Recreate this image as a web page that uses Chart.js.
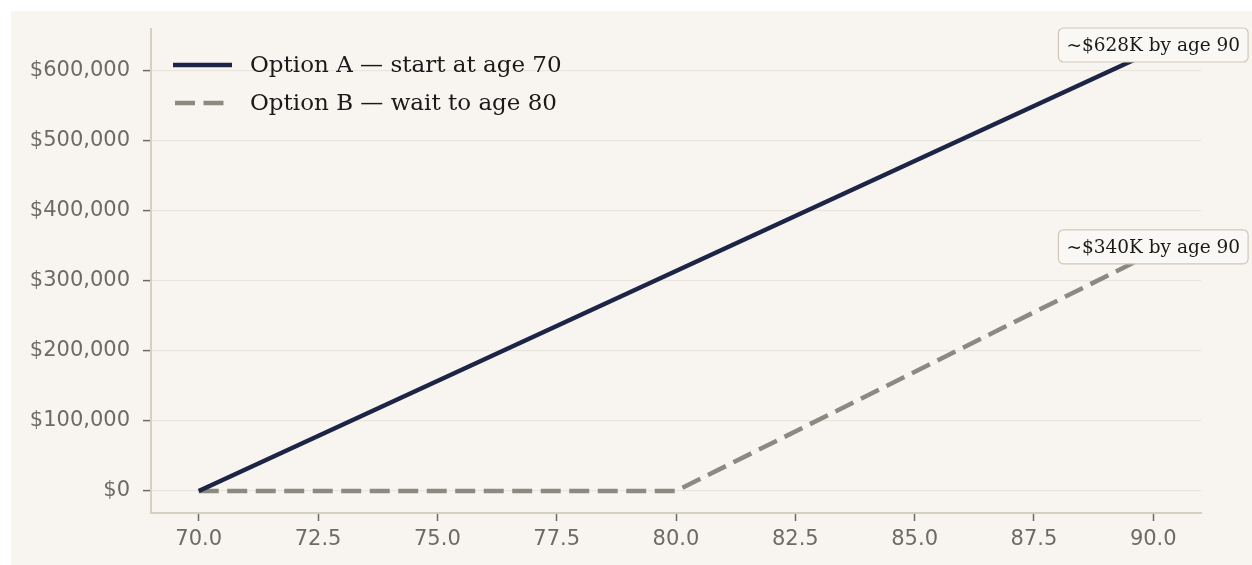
<!DOCTYPE html>
<html>
<head>
<meta charset="utf-8">
<title>Cumulative benefits: start at 70 vs wait to 80</title>
<script src="https://cdn.jsdelivr.net/npm/chart.js@4/dist/chart.umd.min.js"></script>
<style>
  html, body { margin: 0; padding: 0; background: #ffffff; }
  #wrap { position: absolute; left: 11px; top: 11px; width: 1241px; height: 554px; background: #f8f4f0; }
  canvas { display: block; }
</style>
</head>
<body>
<div id="wrap"><canvas id="chart" width="1241" height="554"></canvas></div>
<script>
// Ages and cumulative amounts received
const agesA = [70, 90];
const valuesA = [0, 628000];
const agesB = [70, 80, 90];
const valuesB = [0, 0, 340000];

const seriesLabels = ['Option A \u2014 start at age 70', 'Option B \u2014 wait to age 80'];
const endNotes = ['~$628K by age 90', '~$340K by age 90'];

// Axis ticks
const xTickValues = [70, 72.5, 75, 77.5, 80, 82.5, 85, 87.5, 90];
const yTickValues = [0, 100000, 200000, 300000, 400000, 500000, 600000];

const SERIF = '"DejaVu Serif", "Liberation Serif", serif';
const SANS = '"DejaVu Sans", sans-serif';

function toPoints(xs, ys) { return xs.map((x, i) => ({ x: x, y: ys[i] })); }

// Legend drawn inside the plot, upper left
const insideLegend = {
  id: 'insideLegend',
  afterDatasetsDraw(chart) {
    const ctx = chart.ctx;
    const area = chart.chartArea;
    const x0 = area.left + 22;
    const y0 = area.top + 36;
    const rowGap = 38;
    ctx.save();
    chart.data.datasets.forEach((ds, i) => {
      const y = y0 + i * rowGap;
      const dash = ds.borderDash || [];
      // solid handle spans 59px; dashed handle shows two full dashes
      const hx0 = dash.length ? x0 + 2 : x0;
      const hx1 = dash.length ? hx0 + dash[0] * 2 + dash[1] : x0 + 59;
      ctx.beginPath();
      ctx.lineWidth = ds.borderWidth;
      ctx.strokeStyle = ds.borderColor;
      ctx.setLineDash(dash);
      ctx.lineCap = 'butt';
      ctx.moveTo(hx0, y);
      ctx.lineTo(hx1, y);
      ctx.stroke();
      ctx.setLineDash([]);
      ctx.fillStyle = '#1a1a1a';
      ctx.font = '23px ' + SERIF;
      ctx.textAlign = 'left';
      ctx.textBaseline = 'middle';
      ctx.fillText(ds.label, x0 + 77, y + 1);
    });
    ctx.restore();
  }
};

// Boxed note above the last point of each series
const endNoteBoxes = {
  id: 'endNoteBoxes',
  afterDatasetsDraw(chart) {
    const ctx = chart.ctx;
    const xs = chart.scales.x, ys = chart.scales.y;
    ctx.save();
    ctx.font = '18.5px ' + SERIF;
    chart.data.datasets.forEach((ds, i) => {
      const last = ds.data[ds.data.length - 1];
      const cx = xs.getPixelForValue(last.x);
      const cy = ys.getPixelForValue(last.y) - 6;
      const text = endNotes[i];
      const w = ctx.measureText(text).width + 16;
      const h = 34;
      const bx = cx - w / 2, by = cy - h / 2;
      ctx.beginPath();
      ctx.roundRect(bx, by, w, h, 5);
      ctx.fillStyle = '#faf8f4';
      ctx.fill();
      ctx.lineWidth = 1.2;
      ctx.strokeStyle = '#cfc8b8';
      ctx.stroke();
      ctx.fillStyle = '#1a1a1a';
      ctx.textAlign = 'center';
      ctx.textBaseline = 'middle';
      ctx.fillText(text, cx, cy + 1);
    });
    ctx.restore();
  }
};

new Chart(document.getElementById('chart'), {
  type: 'line',
  data: {
    datasets: [
      {
        label: seriesLabels[0],
        data: toPoints(agesA, valuesA),
        borderColor: '#1c2545',
        borderWidth: 4.5,
        pointRadius: 0,
        fill: false,
        tension: 0
      },
      {
        label: seriesLabels[1],
        data: toPoints(agesB, valuesB),
        borderColor: '#8a8a81',
        borderWidth: 4.5,
        borderDash: [20, 8.5],
        pointRadius: 0,
        fill: false,
        tension: 0
      }
    ]
  },
  options: {
    responsive: false,
    animation: false,
    events: [],
    layout: { padding: { left: 0, right: 51, top: 18, bottom: 0 } },
    plugins: {
      legend: { display: false },
      tooltip: { enabled: false }
    },
    scales: {
      x: {
        type: 'linear',
        min: 69,
        max: 91,
        afterBuildTicks(scale) { scale.ticks = xTickValues.map(v => ({ value: v })); },
        afterFit(scale) {
          scale.height = 52;
          scale.paddingLeft = 0; scale.paddingRight = 0;
        },
        border: { display: true, color: '#d6d0c1', width: 2 },
        grid: {
          drawOnChartArea: false,
          drawTicks: true,
          tickLength: 8,
          tickColor: '#6a6a6a',
          tickWidth: 1.5
        },
        ticks: {
          color: '#6b6b68',
          font: { family: SANS, size: 21 },
          padding: 6,
          maxRotation: 0,
          autoSkip: false,
          callback: v => Number(v).toFixed(1)
        }
      },
      y: {
        type: 'linear',
        min: -31400,
        max: 659400,
        afterBuildTicks(scale) { scale.ticks = yTickValues.map(v => ({ value: v })); },
        afterFit(scale) {
          scale.width = 140;
          scale.paddingTop = 0; scale.paddingBottom = 0;
        },
        border: { display: true, color: '#d6d0c1', width: 2 },
        grid: {
          color: '#e9e5dc',
          lineWidth: 1.2,
          drawTicks: true,
          tickLength: 8,
          tickColor: '#6a6a6a',
          tickWidth: 1.5
        },
        ticks: {
          color: '#6b6b68',
          font: { family: SANS, size: 21 },
          padding: 13,
          autoSkip: false,
          callback: v => '$' + Number(v).toLocaleString('en-US')
        }
      }
    }
  },
  plugins: [insideLegend, endNoteBoxes]
});
</script>
</body>
</html>
